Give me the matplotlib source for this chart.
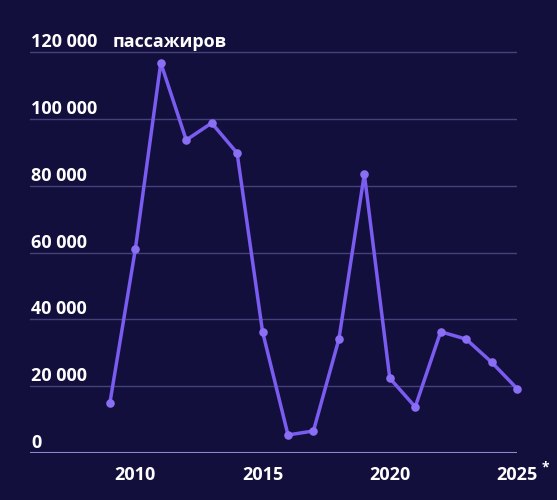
import matplotlib
matplotlib.use("Agg")
import matplotlib.pyplot as plt

years = list(range(2009, 2026))
passengers = [15000, 61000, 116800, 93700, 98800, 89800, 36300, 5400, 6600,
              34100, 83500, 22400, 13800, 36300, 34100, 27200, 19300]
y_ticks = [0, 20000, 40000, 60000, 80000, 100000, 120000]
y_labels = ["0", "20 000", "40 000", "60 000", "80 000", "100 000", "120 000"]
x_ticks = [2010, 2015, 2020, 2025]
x_labels = ["2010", "2015", "2020", "2025"]

bg = "#130f3d"
line_col = "#7a5cf0"
plt.rcParams["font.family"] = ["Open Sans", "DejaVu Sans"]

fig = plt.figure(figsize=(5.57, 5.0), dpi=100, facecolor=bg)
ax = fig.add_axes([30 / 557, 47 / 500, 487 / 557, 417.5 / 500])
ax.set_facecolor(bg)

for v in y_ticks[1:]:
    ax.axhline(v, color="#45417a", lw=1, zorder=1)
ax.axhline(0, color="#8d89cc", lw=1.5, zorder=1)

ax.plot(years, passengers, color=line_col, lw=2.5, zorder=3, clip_on=False)
ax.scatter(years, passengers, s=38, color="#8a6ff5", zorder=4, linewidths=0,
           clip_on=False)

ax.set_xlim(2005.86, 2025)
ax.set_ylim(0, 125000)

tk = dict(color="white", fontsize=13, fontweight="bold")
for v, lab in zip(y_ticks, y_labels):
    ax.text(0.003, v + 1500, lab, transform=ax.get_yaxis_transform(),
            va="baseline", ha="left", **tk)
ax.text(0.17, 120000 + 1500, "пассажиров", transform=ax.get_yaxis_transform(),
        va="baseline", ha="left", **tk)

for x, lab in zip(x_ticks, x_labels):
    ax.text(x, -8100, lab, ha="center", va="baseline", clip_on=False, **tk)
ax.text(2025.95, -5600, "*", ha="left", va="baseline", clip_on=False,
        color="white", fontsize=10, fontweight="bold")

ax.set_xticks([])
ax.set_yticks([])
for s in ax.spines.values():
    s.set_visible(False)

fig.savefig("out.png", dpi=100, facecolor=bg)
